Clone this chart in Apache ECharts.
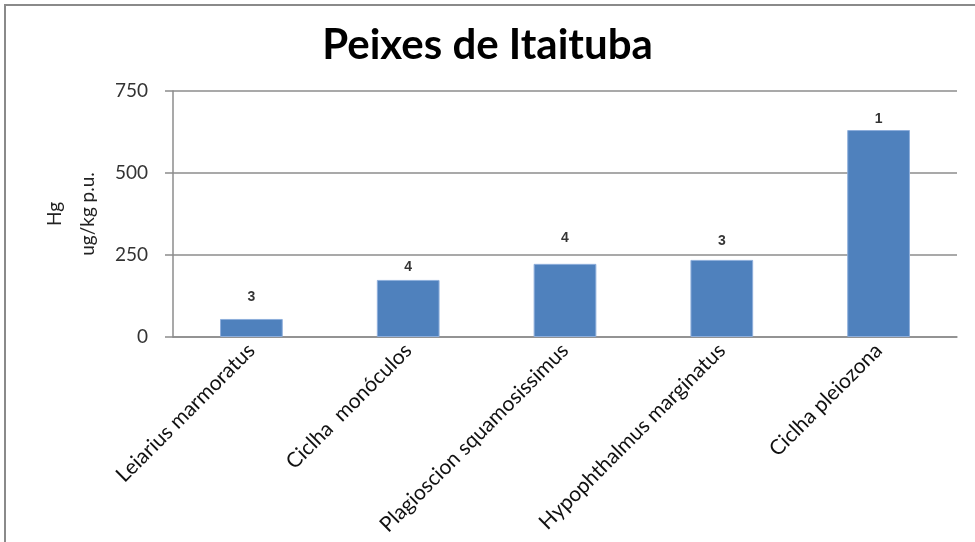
<!DOCTYPE html>
<html>
<head>
<meta charset="utf-8">
<title>Peixes de Itaituba</title>
<script src="https://cdn.jsdelivr.net/npm/echarts@6/dist/echarts.min.js"></script>
<style>
  html, body { margin: 0; padding: 0; background: #fff; }
  #chart { width: 975px; height: 542px; }
</style>
</head>
<body>
<div id="chart"></div>
<script>
// especies e valores de Hg (ug/kg p.u.)
const especies = ['Leiarius marmoratus', 'Ciclha  monóculos', 'Plagioscion squamosissimus', 'Hypophthalmus marginatus', 'Ciclha pleiozona'];
const mediaHg = [55, 174, 223, 235, 631];
// topo das barras de erro (ocultas no original), onde fica o n
const topoErro = [88, 180, 268, 259, 631];
const nAmostras = [3, 4, 4, 3, 1];
const ticksY = [0, 250, 500, 750];

const fonte = 'Lato, "Open Sans", sans-serif';

const chartDom = document.getElementById('chart');
const myChart = echarts.init(chartDom);

const option = {
  animation: false,
  backgroundColor: '#fff',
  title: {
    text: 'Peixes de Itaituba',
    left: 'center',
    top: 19,
    textStyle: { fontFamily: fonte, fontWeight: 'bold', fontSize: 42, color: '#000' }
  },
  graphic: [
    {
      type: 'rect',
      shape: { x: 5, y: 5, width: 1200, height: 800 },
      style: { fill: 'none', stroke: '#8a8a8a', lineWidth: 2 },
      silent: true
    }
  ],
  grid: { left: 173, right: 18, top: 91, bottom: 205, containLabel: false, outerBoundsMode: 'none' },
  xAxis: {
    type: 'category',
    data: especies,
    axisLine: { lineStyle: { color: '#8c8c8c', width: 1.5 } },
    axisTick: { show: false },
    axisLabel: {
      rotate: 45,
      margin: 10,
      interval: 0,
      fontFamily: fonte,
      fontSize: 21,
      color: '#111'
    }
  },
  yAxis: {
    type: 'value',
    min: ticksY[0],
    max: ticksY[ticksY.length - 1],
    interval: 250,
    name: 'Hg\nug/kg p.u.',
    nameLocation: 'middle',
    nameRotate: 90,
    nameGap: 67,
    nameTextStyle: { fontFamily: fonte, fontSize: 19, color: '#222', lineHeight: 33 },
    axisLine: { show: true, lineStyle: { color: '#8c8c8c', width: 1.5 } },
    axisTick: { show: true, inside: false, length: 8, lineStyle: { color: '#8c8c8c', width: 1.5 } },
    axisLabel: { margin: 25, fontFamily: fonte, fontSize: 19, color: '#333' },
    splitLine: { lineStyle: { color: '#8c8c8c', width: 1.5 } }
  },
  series: [
    {
      name: 'Hg',
      type: 'bar',
      data: mediaHg,
      barWidth: '40%',
      itemStyle: { color: '#4f81bd', borderColor: '#8eaedb', borderWidth: 1 }
    },
    {
      name: 'n',
      type: 'scatter',
      data: topoErro,
      symbolSize: 0,
      silent: true,
      label: {
        show: true,
        position: 'top',
        distance: 4,
        formatter: (p) => String(nAmostras[p.dataIndex]),
        fontFamily: '"Liberation Sans", Arial, sans-serif',
        fontWeight: 'bold',
        fontSize: 14,
        color: '#000'
      }
    }
  ]
};

myChart.setOption(option);
</script>
</body>
</html>
